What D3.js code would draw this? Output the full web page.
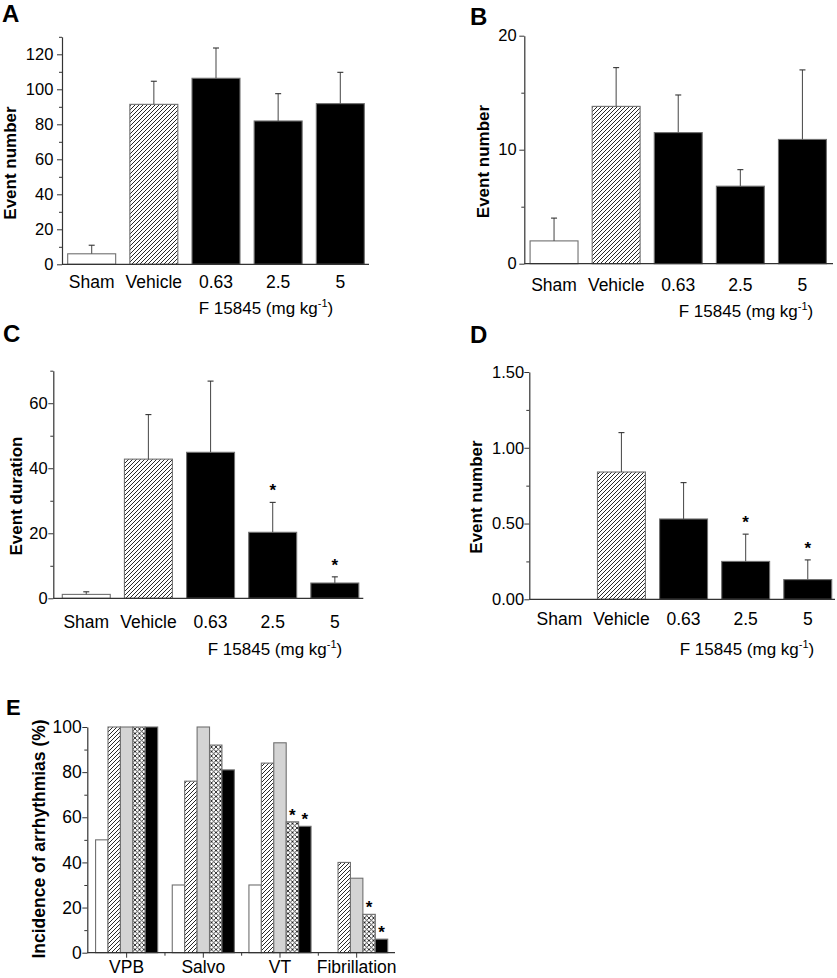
<!DOCTYPE html>
<html><head><meta charset="utf-8">
<script src="https://cdn.jsdelivr.net/npm/d3@7"></script>
<style>
body{margin:0;background:#fff;}
svg{display:block;font-family:"Liberation Sans",Arial,Helvetica,sans-serif;}
</style></head>
<body>
<svg id="chart" width="837" height="978"></svg>
<script>
// ---------- DATA ----------
const groups = ["Sham", "Vehicle", "0.63", "2.5", "5"];
const groupFill = ["white", "hatch", "black", "black", "black"];

const aMean = [6.0, 91.4, 106.3, 81.9, 91.8];
const aSem  = [4.9, 13.2, 17.3, 15.6, 17.9];
const aYTicks = [0, 20, 40, 60, 80, 100, 120];

const bMean = [2.0, 13.8, 11.5, 6.8, 10.9];
const bSem  = [2.0, 3.4, 3.3, 1.45, 6.1];
const bYTicks = [0, 10, 20];

const cMean = [1.2, 42.8, 44.9, 20.3, 4.7];
const cSem  = [0.8, 13.7, 21.9, 9.2, 1.9];
const cStar = [false, false, false, true, true];
const cYTicks = [0, 20, 40, 60];

const dMean = [0, 0.84, 0.53, 0.25, 0.13];
const dSem  = [0, 0.26, 0.24, 0.18, 0.13];
const dStar = [false, false, false, true, true];
const dYTicks = [0, 0.5, 1.0, 1.5];

const eCategories = ["VPB", "Salvo", "VT", "Fibrillation"];
const eSeries = ["Sham", "Vehicle", "0.63", "2.5", "5"];
const eSham    = [50, 30, 30, 0];
const eVehicle = [100, 76, 84, 40];
const e063     = [100, 100, 93, 33];
const e25      = [100, 92, 58, 17];
const e5       = [100, 81, 56, 6];
const e25Star  = [false, false, true, true];
const e5Star   = [false, false, true, true];
const eYTicks  = [0, 20, 40, 60, 80, 100];

// ---------- SETUP ----------
const FONT = "'Liberation Sans', Arial, sans-serif";
const svg = d3.select("#chart");
const defs = svg.append("defs");
const hatch = defs.append("pattern").attr("id", "hatch").attr("patternUnits", "userSpaceOnUse")
  .attr("width", 4).attr("height", 4);
hatch.append("rect").attr("width", 4).attr("height", 4).attr("fill", "white");
hatch.append("path").attr("d", "M-1,1 l2,-2 M0,4 l4,-4 M3,5 l2,-2")
  .attr("stroke", "#111").attr("stroke-width", 0.9);
const cross = defs.append("pattern").attr("id", "cross").attr("patternUnits", "userSpaceOnUse")
  .attr("width", 4.5).attr("height", 4.5);
cross.append("rect").attr("width", 4.5).attr("height", 4.5).attr("fill", "white");
cross.append("path").attr("d", "M0,0 L4.5,4.5 M4.5,0 L0,4.5")
  .attr("stroke", "#222").attr("stroke-width", 0.9);

const fillOf = f => f === "hatch" ? "url(#hatch)" : f === "cross" ? "url(#cross)" : f === "gray" ? "#d4d4d4" : f;
const AXIS = "#333";
const OUTLINE = "#707070";

function styleAxis(g, size) {
  g.attr("font-size", null).attr("font-family", null);
  g.selectAll("path.domain").attr("stroke", AXIS).attr("stroke-width", 1.2);
  g.selectAll(".tick line").attr("stroke", AXIS).attr("stroke-width", 1);
  g.selectAll(".tick text").attr("fill", "#000")
    .style("font-family", FONT).style("font-size", size + "px");
}

function xTitle(x, y) {
  const t = svg.append("text").attr("x", x).attr("y", y).attr("text-anchor", "middle")
    .style("font-size", "17px").attr("fill", "#000");
  t.append("tspan").text("F 15845 (mg kg");
  t.append("tspan").style("font-size", "11px").attr("dy", -7).text("-1");
  t.append("tspan").attr("dy", 7).text(")");
}

function panelLetter(txt, x, y, size) {
  svg.append("text").attr("x", x).attr("y", y).style("font-size", (size || 24) + "px")
    .attr("font-weight", "bold").attr("fill", "#000").text(txt);
}

function yLabel(txt, x, y, size) {
  svg.append("text").attr("transform", `translate(${x},${y}) rotate(-90)`)
    .attr("text-anchor", "middle").style("font-size", (size || 17) + "px").attr("font-weight", "bold")
    .attr("fill", "#000").text(txt);
}

function drawPanel(cfg) {
  const y = d3.scaleLinear().domain(cfg.yDomain).range([cfg.y0, cfg.y1]);
  const x = d3.scaleBand().domain(groups).range(cfg.xBand).paddingInner(0.228).paddingOuter(0.114);
  const g = svg.append("g");

  const data = groups.map((k, i) => ({k, m: cfg.mean[i], s: cfg.sem[i], star: cfg.star ? cfg.star[i] : false, f: groupFill[i]}));
  g.selectAll("rect.bar").data(data.filter(d => d.m > 0)).join("rect")
    .attr("x", d => x(d.k)).attr("width", x.bandwidth())
    .attr("y", d => y(d.m)).attr("height", d => y(0) - y(d.m))
    .attr("fill", d => fillOf(d.f)).attr("stroke", OUTLINE).attr("stroke-width", 1.1);

  const eb = g.selectAll("g.eb").data(data.filter(d => d.s > 0)).join("g");
  eb.append("line").attr("x1", d => x(d.k) + x.bandwidth() / 2).attr("x2", d => x(d.k) + x.bandwidth() / 2)
    .attr("y1", d => y(d.m)).attr("y2", d => y(d.m + d.s)).attr("stroke", "#555").attr("stroke-width", 1.1);
  eb.append("line").attr("x1", d => x(d.k) + x.bandwidth() / 2 - 3).attr("x2", d => x(d.k) + x.bandwidth() / 2 + 3)
    .attr("y1", d => y(d.m + d.s)).attr("y2", d => y(d.m + d.s)).attr("stroke", "#333").attr("stroke-width", 1.1);

  g.selectAll("text.star").data(data.filter(d => d.star)).join("text")
    .attr("x", d => x(d.k) + x.bandwidth() / 2).attr("y", d => y(d.m + d.s) - 6)
    .attr("text-anchor", "middle").style("font-size", "17px").attr("font-weight", "bold")
    .attr("fill", "#000").text("*");

  const ya = svg.append("g").attr("transform", `translate(${cfg.xAxis[0]},0)`)
    .call(d3.axisLeft(y).tickValues(cfg.yTicks).tickFormat(d3.format(cfg.fmt)).tickSize(5).tickSizeOuter(0).tickPadding(cfg.tp));
  styleAxis(ya, cfg.tickFont || 16.5);
  const ym = svg.append("g").attr("transform", `translate(${cfg.xAxis[0]},0)`)
    .call(d3.axisLeft(y).tickValues(cfg.yMinor).tickFormat("").tickSize(3).tickSizeOuter(0));
  ym.select("path.domain").remove();
  styleAxis(ym, 10);

  const xl = d3.scaleLinear().domain([0, 1]).range(cfg.xAxis);
  svg.append("line").attr("x1", xl(0)).attr("x2", xl(1)).attr("y1", y(0)).attr("y2", y(0))
    .attr("stroke", AXIS).attr("stroke-width", 1.2);
  const xa = svg.append("g").attr("transform", `translate(0,${y(0)})`)
    .call(d3.axisBottom(x).tickSize(0).tickPadding(cfg.xp));
  xa.select("path.domain").remove();
  styleAxis(xa, 17.5);
}

// ---------- PANELS A–D ----------
drawPanel({mean: aMean, sem: aSem, yDomain: [0, 130], y0: 264.3, y1: 36.8, yTicks: aYTicks,
  yMinor: [10, 30, 50, 70, 90, 110, 130], fmt: "d", tp: 3.7, xBand: [60.6, 371.4], xAxis: [62, 369], xp: 11});
drawPanel({mean: bMean, sem: bSem, yDomain: [0, 20], y0: 263.7, y1: 35.7, yTicks: bYTicks,
  yMinor: [5, 15], fmt: "d", tp: 2.6, xBand: [523, 833.5], xAxis: [524.3, 833], xp: 15});
drawPanel({mean: cMean, sem: cSem, star: cStar, yDomain: [0, 70], y0: 598.3, y1: 370.7, yTicks: cYTicks,
  yMinor: [10, 30, 50, 70], fmt: "d", tp: 0.6, xBand: [55.2, 365.9], xAxis: [53.3, 363.3], xp: 17});
drawPanel({mean: dMean, sem: dSem, star: dStar, yDomain: [0, 1.5], y0: 599.3, y1: 372, yTicks: dYTicks,
  yMinor: [0.25, 0.75, 1.25], fmt: ".2f", tp: 0.2, xBand: [528.3, 838.8], xAxis: [529.3, 835], xp: 13});

panelLetter("A", 2, 22);
panelLetter("B", 470, 25);
panelLetter("C", 3, 342);
panelLetter("D", 470, 343);
panelLetter("E", 6, 715, 22);

yLabel("Event number", 15.5, 163);
yLabel("Event number", 488.5, 161.5);
yLabel("Event duration", 21.7, 496);
yLabel("Event number", 482, 497);

xTitle(266, 314);
xTitle(746, 317);
xTitle(275, 655);
xTitle(747, 655);

// ---------- PANEL E ----------
(function () {
  const y = d3.scaleLinear().domain([0, 100]).range([952.7, 727]);
  const x0 = d3.scaleBand().domain(eCategories).range([88.3, 395]).paddingInner(0.19).paddingOuter(0.095);
  const x1 = d3.scaleBand().domain(eSeries).range([0, x0.bandwidth()]);
  const vals = [eSham, eVehicle, e063, e25, e5];
  const fills = ["white", "hatch", "gray", "cross", "black"];
  const stars = [null, null, null, e25Star, e5Star];
  const rows = [];
  eCategories.forEach((c, ci) => eSeries.forEach((s, si) => rows.push({c, s, v: vals[si][ci], f: fills[si], star: stars[si] ? stars[si][ci] : false})));

  svg.append("g").selectAll("rect").data(rows.filter(d => d.v > 0)).join("rect")
    .attr("x", d => x0(d.c) + x1(d.s)).attr("width", x1.bandwidth())
    .attr("y", d => y(d.v)).attr("height", d => y(0) - y(d.v))
    .attr("fill", d => fillOf(d.f)).attr("stroke", OUTLINE).attr("stroke-width", 1.1);

  svg.append("g").selectAll("text").data(rows.filter(d => d.star)).join("text")
    .attr("x", d => x0(d.c) + x1(d.s) + x1.bandwidth() / 2).attr("y", d => y(d.v) - 1)
    .attr("text-anchor", "middle").style("font-size", "17px").attr("font-weight", "bold")
    .attr("fill", "#000").text("*");

  const ya = svg.append("g").attr("transform", "translate(87.3,0)")
    .call(d3.axisLeft(y).tickValues(eYTicks).tickSize(5).tickSizeOuter(0).tickPadding(0.6));
  styleAxis(ya, 17.5);
  const ym = svg.append("g").attr("transform", "translate(87.3,0)")
    .call(d3.axisLeft(y).tickValues([10, 30, 50, 70, 90]).tickFormat("").tickSize(3).tickSizeOuter(0));
  ym.select("path.domain").remove();
  styleAxis(ym, 10);

  svg.append("line").attr("x1", 87.3).attr("x2", 395).attr("y1", y(0)).attr("y2", y(0))
    .attr("stroke", AXIS).attr("stroke-width", 1.2);
  const xa = svg.append("g").attr("transform", `translate(0,${y(0)})`)
    .call(d3.axisBottom(x0).tickSize(5).tickPadding(3));
  xa.select("path.domain").remove();
  styleAxis(xa, 17.5);
  const bounds = eCategories.slice(1).map(c => x0(c) - x0.step() * x0.paddingInner() / 2);
  svg.append("g").selectAll("line").data(bounds).join("line")
    .attr("x1", d => d).attr("x2", d => d).attr("y1", y(0)).attr("y2", y(0) + 3)
    .attr("stroke", AXIS).attr("stroke-width", 1);

  yLabel("Incidence of arrhythmias (%)", 44.5, 839, 17.5);
})();
</script>
</body></html>
